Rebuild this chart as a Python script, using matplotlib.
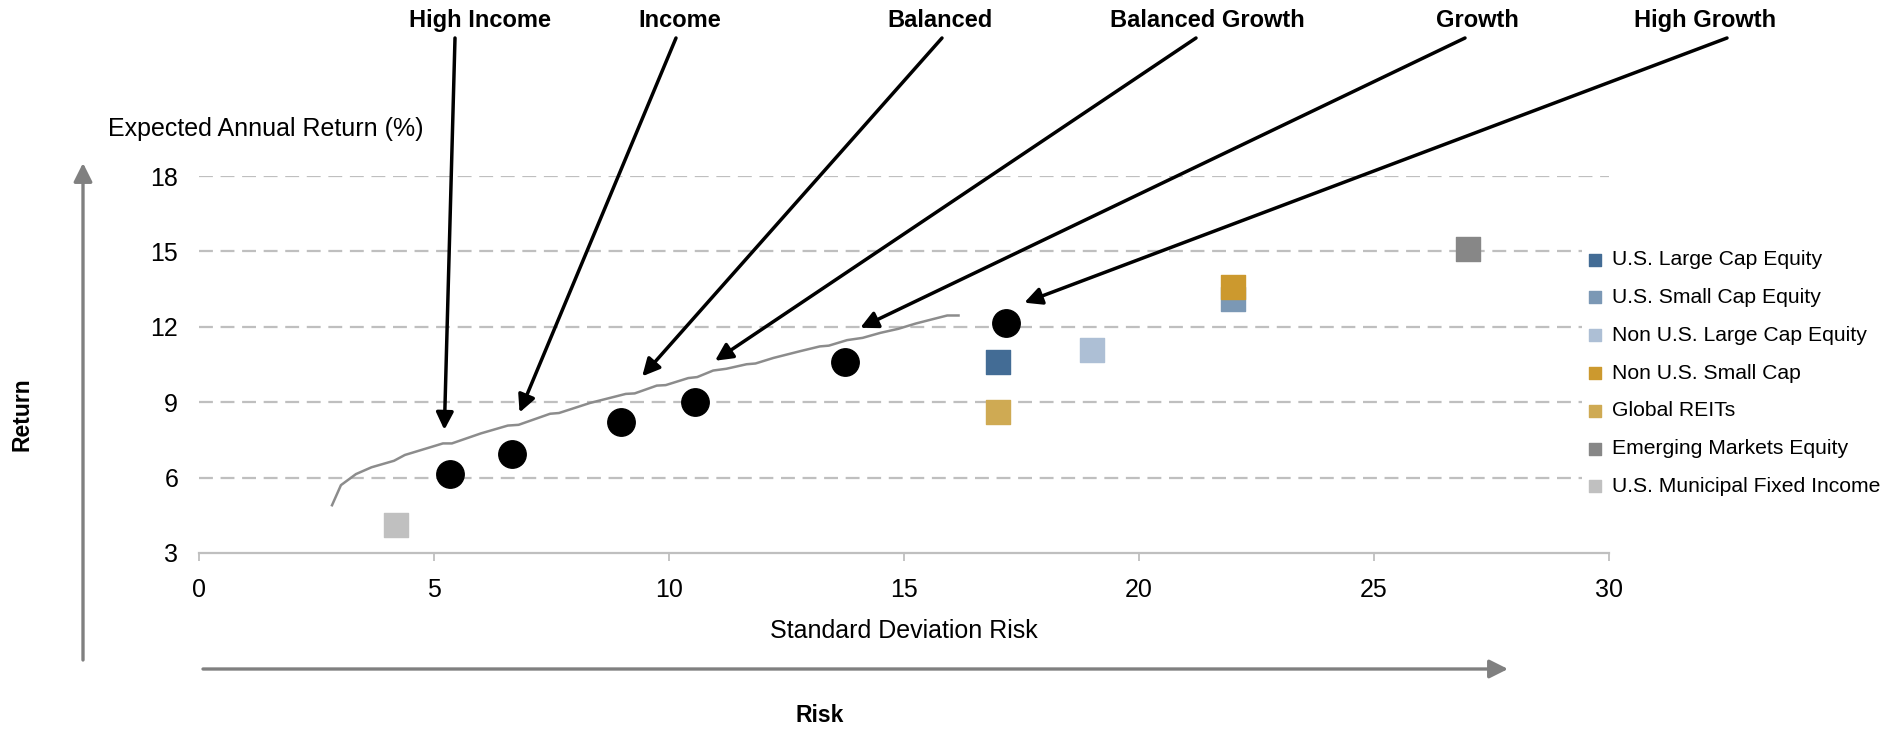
import matplotlib
matplotlib.use("Agg")
import matplotlib.pyplot as plt

plt.rcParams['font.family'] = ['Liberation Sans', 'DejaVu Sans']

# Model portfolios (risk = standard deviation, return = expected annual %)
portfolio_names = ['High Income', 'Income', 'Balanced', 'Balanced Growth', 'Growth', 'High Growth']
portfolio_risk = [5.35, 6.65, 8.97, 10.56, 13.75, 17.18]
portfolio_return = [6.15, 6.95, 8.2, 9.0, 10.6, 12.15]

# Points on the frontier that each portfolio label points to
arrow_tip_risk = [5.22, 6.82, 9.43, 10.98, 14.07, 17.56]
arrow_tip_return = [7.9, 8.59, 10.03, 10.65, 11.96, 12.96]

# Asset classes
asset_names = ['U.S. Large Cap Equity', 'U.S. Small Cap Equity', 'Non U.S. Large Cap Equity',
               'Non U.S. Small Cap', 'Global REITs', 'Emerging Markets Equity',
               'U.S. Municipal Fixed Income']
asset_risk = [17.0, 22.0, 19.0, 22.0, 17.0, 27.0, 4.2]
asset_return = [10.58, 13.1, 11.06, 13.57, 8.6, 15.08, 4.1]
asset_colors = ['#436C95', '#7B98B5', '#ADBFD5', '#CC992E', '#CFAA53', '#878787', '#C0C0C0']

# Efficient frontier
frontier_risk = [2.83, 3.02, 3.34, 3.67, 4.15, 4.38, 5.19, 5.38, 6.0, 6.57, 6.8, 7.47, 7.66,
                 8.32, 9.08, 9.27, 9.74, 9.93, 10.41, 10.6, 10.94, 11.22, 11.65, 11.84, 12.22,
                 12.79, 13.21, 13.4, 13.79, 14.12, 14.5, 14.88, 15.25, 15.73, 15.92, 16.16]
frontier_return = [4.9, 5.7, 6.14, 6.41, 6.67, 6.9, 7.36, 7.36, 7.76, 8.07, 8.1, 8.54, 8.57,
                   8.97, 9.33, 9.35, 9.66, 9.68, 9.96, 10.0, 10.26, 10.33, 10.51, 10.54, 10.76,
                   11.03, 11.22, 11.25, 11.47, 11.56, 11.76, 11.92, 12.13, 12.36, 12.45, 12.45]

x_ticks = [0, 5, 10, 15, 20, 25, 30]
y_ticks = [3, 6, 9, 12, 15, 18]

W, H = 1890, 730
fig = plt.figure(figsize=(W / 100, H / 100), dpi=100)
ax = fig.add_axes([199 / W, 1 - 553 / H, (1609 - 199) / W, (553 - 176) / H])

ax.set_xlim(0, 30)
ax.set_ylim(3, 18)
ax.set_xticks(x_ticks)
ax.set_yticks(y_ticks)

grid_color = '#BFBFBF'
for y in y_ticks[1:]:
    ax.axhline(y, color=grid_color, lw=1.6, ls=(0, (6.25, 3.45)), zorder=1)

for s in ['top', 'right', 'left']:
    ax.spines[s].set_visible(False)
ax.spines['bottom'].set_color(grid_color)
ax.spines['bottom'].set_linewidth(1.6)
ax.tick_params(axis='x', colors=grid_color, length=6, width=1.3, labelsize=18,
               labelcolor='black', pad=12)
ax.tick_params(axis='y', length=0, labelsize=18, pad=15)

ax.plot(frontier_risk, frontier_return, color='#8C8C8C', lw=1.8, zorder=2)

ax.scatter(portfolio_risk, portfolio_return, s=390, color='black', zorder=4)

for name, x, y, c in zip(asset_names, asset_risk, asset_return, asset_colors):
    ax.scatter([x], [y], s=300, marker='s', color=c, label=name, zorder=3)

leg = ax.legend(loc='upper left', bbox_to_anchor=(1582 / W, 1 - 246 / H),
                bbox_transform=fig.transFigure, fontsize=15.2, frameon=True,
                facecolor='white', edgecolor='none', framealpha=1, fancybox=False,
                borderpad=0.2, labelspacing=0.89, handlelength=0.8, handletextpad=0.4,
                markerscale=0.5, borderaxespad=0)
leg.set_zorder(5)

ax.set_xlabel('Standard Deviation Risk', fontsize=18, labelpad=12)
fig.text(108 / W, 1 - 129 / H, 'Expected Annual Return (%)', fontsize=18,
         ha='left', va='center')

# Portfolio labels with arrows pointing to the frontier
label_x = [480, 680, 940, 1207, 1477, 1705]
tail_x = [455, 676, 942, 1196, 1465, 1727]
for name, lx, tx, px, py in zip(portfolio_names, label_x, tail_x,
                                arrow_tip_risk, arrow_tip_return):
    fig.text(lx / W, 1 - 20.5 / H, name, fontsize=17, fontweight='bold',
             ha='center', va='center')
    ax.annotate('', xy=(px, py), xycoords='data',
                xytext=(tx, H - 38), textcoords='figure pixels',
                annotation_clip=False,
                arrowprops=dict(arrowstyle='-|>', color='black', lw=2.5,
                                mutation_scale=26, shrinkA=0, shrinkB=0))

# Return / Risk direction arrows
arrow_grey = '#808080'
ax.annotate('', xy=(83, H - 163), xycoords='figure pixels',
            xytext=(83, H - 660), textcoords='figure pixels', annotation_clip=False,
            arrowprops=dict(arrowstyle='-|>', color=arrow_grey, lw=2.4,
                            mutation_scale=28, shrinkA=0, shrinkB=0))
ax.annotate('', xy=(1508, H - 669), xycoords='figure pixels',
            xytext=(203, H - 669), textcoords='figure pixels', annotation_clip=False,
            arrowprops=dict(arrowstyle='-|>', color=arrow_grey, lw=2.4,
                            mutation_scale=28, shrinkA=0, shrinkB=0))
fig.text(22 / W, 1 - 414 / H, 'Return', fontsize=16.5, fontweight='bold',
         rotation=90, ha='center', va='center')
fig.text(820 / W, 1 - 716 / H, 'Risk', fontsize=16.5, fontweight='bold',
         ha='center', va='center')

fig.savefig('out.png', dpi=100)
